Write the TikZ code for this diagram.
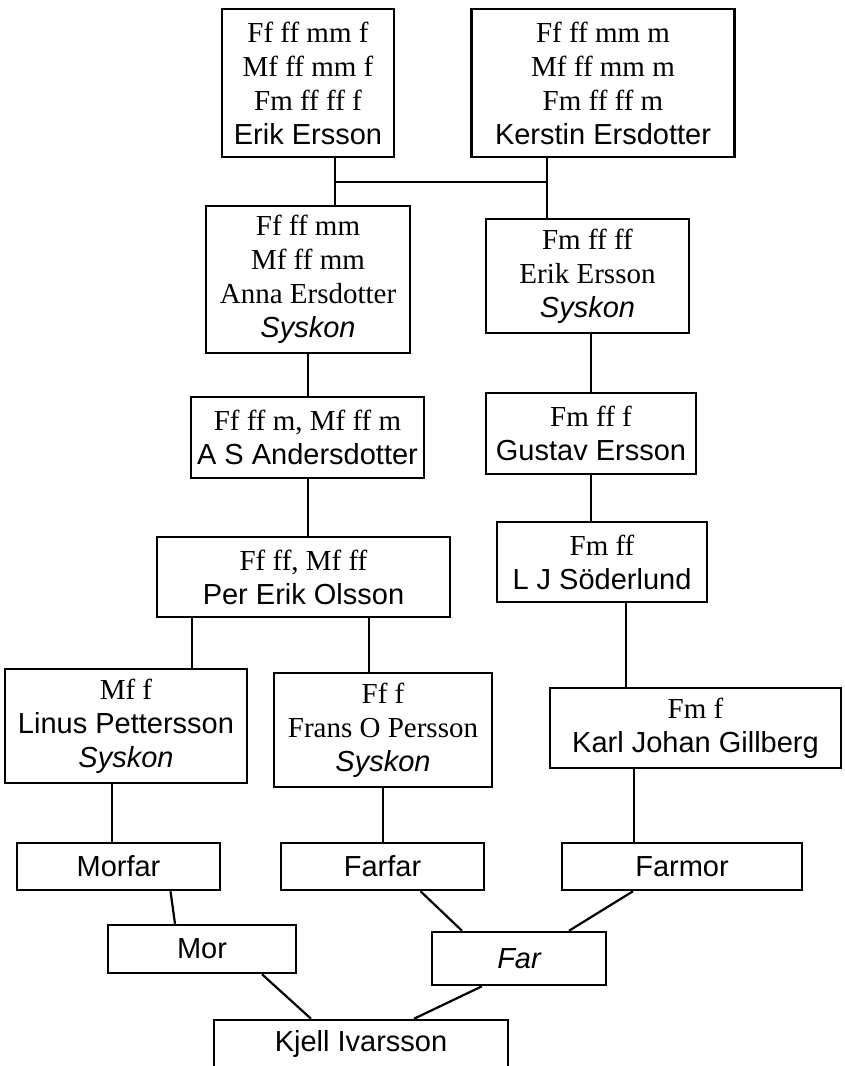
\documentclass[tikz,border=0pt]{standalone}
\usepackage{fontspec}
\setmainfont{Liberation Serif}
\setsansfont{Liberation Sans}
\usetikzlibrary{calc}
\newcommand{\pname}[1]{{\sffamily #1}}
\newcommand{\syskon}{{\sffamily\itshape Syskon}}
\tikzset{
  person/.style = {
    draw,
    align=center,
    inner sep=0pt,
    line width=2.5pt,
    font=\fontsize{29}{34}\selectfont,
  },
  link/.style = {
    line width=2.2pt,
  },
}
\begin{document}
\begin{tikzpicture}[x=1pt, y=-1pt]
\useasboundingbox (0,0) rectangle (844,1066);

% top generation
\node(erik)[person, minimum width=172pt, minimum height=148pt] at (308,83) {
  Ff ff mm f\\
  Mf ff mm f\\
  Fm ff ff f\\
  \pname{Erik Ersson}
};
\node(kerstin)[person, minimum width=263pt, minimum height=148pt] at (603,83) {
  Ff ff mm m\\
  Mf ff mm m\\
  Fm ff ff m\\
  \pname{Kerstin Ersdotter}
};

\node(anna)[person, minimum width=204pt, minimum height=147pt] at (308,279.5) {
  Ff ff mm\\
  Mf ff mm\\
  Anna Ersdotter\\
  \syskon
};
\node(erikS)[person, minimum width=203pt, minimum height=114pt] at (587.5,276) {
  Fm ff ff\\
  Erik Ersson\\
  \syskon
};

\node(andersdotter)[person, minimum width=233pt, minimum height=81pt] at (307.5,437.5) {
  Ff ff m, Mf ff m\\
  \pname{A S Andersdotter}
};
\node(gustav)[person, minimum width=210pt, minimum height=81pt] at (591,433.5) {
  Fm ff f\\
  \pname{Gustav Ersson}
};

\node(perErik)[person, minimum width=293pt, minimum height=80pt] at (303.5,577) {
  Ff ff, Mf ff\\
  \pname{Per Erik Olsson}
};
\node(soderlund)[person, minimum width=210pt, minimum height=80pt] at (602,562) {
  Fm ff\\
  \pname{L J Söderlund}
};

\node(linus)[person, minimum width=242pt, minimum height=114pt] at (126,726) {
  Mf f\\
  \pname{Linus Pettersson}\\
  \syskon
};
\node(frans)[person, minimum width=218pt, minimum height=114pt] at (383,730) {
  Ff f\\
  Frans O Persson\\
  \syskon
};
\node(karl)[person, minimum width=291pt, minimum height=80pt] at (695.5,728) {
  Fm f\\
  \pname{Karl Johan Gillberg}
};

% grandparents
\node(morfar)[person, minimum width=203pt, minimum height=47pt] at (118.5,866.5) {\pname{Morfar}};
\node(farfar)[person, minimum width=203pt, minimum height=47pt] at (382.5,866.5) {\pname{Farfar}};
\node(farmor)[person, minimum width=240pt, minimum height=47pt] at (682,866.5) {\pname{Farmor}};

\node(mor)[person, minimum width=188pt, minimum height=48pt] at (202,949) {\pname{Mor}};
\node(far)[person, minimum width=174pt, minimum height=53pt] at (519,958.5) {\sffamily\itshape Far};

\node(kjell)[person, minimum width=294pt, minimum height=48pt] at (361,1044) {\pname{Kjell Ivarsson}};

% connectors
\coordinate (ljoin) at (335,182);
\coordinate (rjoin) at (547,182);
\coordinate (sdrop) at ($(soderlund.south)+(24,0)$);
\coordinate (pdropL) at ($(perErik.south)+(-111.5,0)$);
\coordinate (pdropR) at ($(perErik.south)+(65.5,0)$);
\coordinate (ldrop) at ($(linus.south)+(-14,0)$);
\coordinate (kdrop) at ($(karl.south)+(-61.5,0)$);

\draw[link] (ljoin |- erik.south) -- (ljoin |- anna.north);
\draw[link] (rjoin |- kerstin.south) -- (rjoin |- erikS.north);
\draw[link] (ljoin) -- (rjoin);

\draw[link] (anna.south) -- (anna.south |- andersdotter.north);
\draw[link] (anna.south |- andersdotter.south) -- (anna.south |- perErik.north);
\draw[link] (gustav.north |- erikS.south) -- (gustav.north);
\draw[link] (gustav.south) -- (gustav.south |- soderlund.north);
\draw[link] (sdrop) -- (sdrop |- karl.north);

\draw[link] (pdropL) -- (pdropL |- linus.north);
\draw[link] (pdropR) -- (pdropR |- frans.north);

\draw[link] (ldrop) -- (ldrop |- morfar.north);
\draw[link] (frans.south) -- (frans.south |- farfar.north);
\draw[link] (kdrop) -- (kdrop |- farmor.north);

\draw[link] ($(morfar.south)+(52,0)$) -- ($(mor.north)+(-27,0)$);
\draw[link] ($(farfar.south)+(38,0)$) -- ($(far.north)+(-57,0)$);
\draw[link] ($(farmor.south)+(-49,0)$) -- ($(far.north)+(50,0)$);
\draw[link] ($(mor.south)+(60,0)$) -- ($(kjell.north)+(-50,0)$);
\draw[link] ($(far.south)+(-37,0)$) -- ($(kjell.north)+(53,0)$);

\end{tikzpicture}
\end{document}
